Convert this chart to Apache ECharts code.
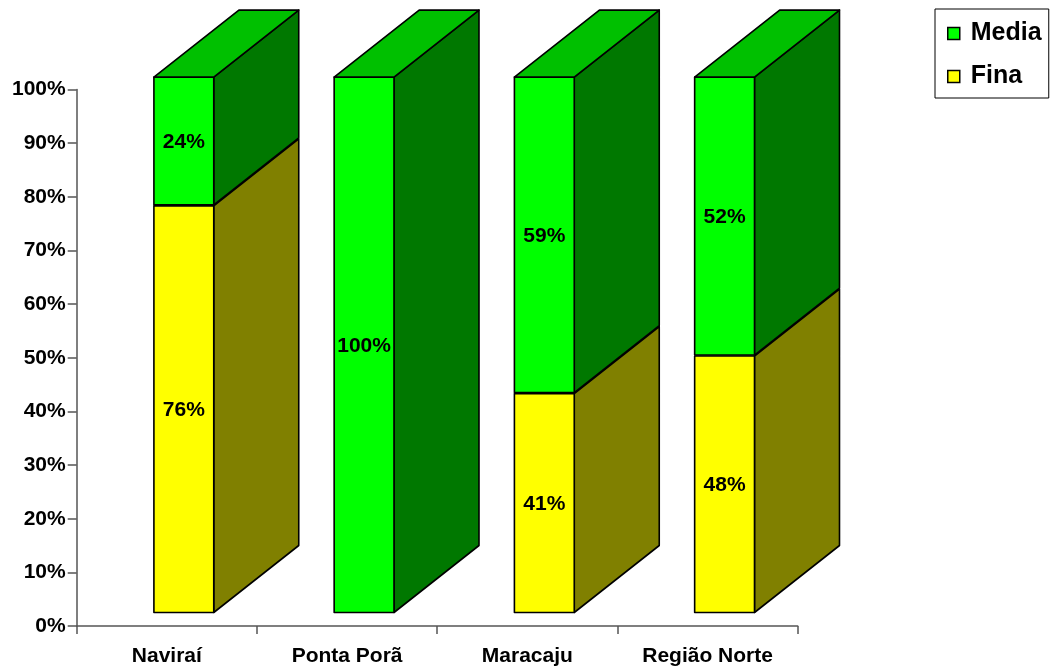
<!DOCTYPE html>
<html>
<head>
<meta charset="utf-8">
<script src="https://cdn.jsdelivr.net/npm/echarts@6/dist/echarts.min.js"></script>
<style>html,body{margin:0;padding:0;background:#fff}#c{width:1053px;height:667px}</style>
</head>
<body>
<div id="c"></div>
<script>
const categories = ['Naviraí', 'Ponta Porã', 'Maracaju', 'Região Norte'];
const fina = [76, 0, 41, 48];
const media = [24, 100, 59, 52];
const yTicks = [0, 10, 20, 30, 40, 50, 60, 70, 80, 90, 100];

const FONT = '"Liberation Sans", Arial, sans-serif';
const COLORS = {
  Media: { front: '#00FF00', side: '#007800', top: '#00C000' },
  Fina: { front: '#FFFF00', side: '#808000', top: '#C0C000' }
};
// 3D projection styling (pixels)
const DX = 85, DY = -67, SX = 17, SY = -13.5, BAR_RATIO = 0.332;

function makeRender(name) {
  const c = COLORS[name];
  return function (params, api) {
    const ci = api.value(0), lo = api.value(1), hi = api.value(2), isTop = api.value(3);
    if (hi - lo <= 0) return null;
    const pLo = api.coord([ci, lo]);
    const pHi = api.coord([ci, hi]);
    const cw = api.size([1, 0])[0];
    const bw = cw * BAR_RATIO;
    const x0 = pLo[0] - bw / 2 + SX, x1 = x0 + bw;
    const yb = pLo[1] + SY, yt = pHi[1] + SY + 1;
    const stroke = { stroke: '#000', lineWidth: 1.6, lineJoin: 'round' };
    const children = [
      { type: 'polygon', shape: { points: [[x1, yb], [x1 + DX, yb + DY], [x1 + DX, yt + DY], [x1, yt]] },
        style: Object.assign({ fill: c.side }, stroke) },
      { type: 'rect', shape: { x: x0, y: yt, width: bw, height: yb - yt },
        style: Object.assign({ fill: c.front }, stroke) }
    ];
    if (isTop) {
      children.push({ type: 'polygon', shape: { points: [[x0, yt], [x1, yt], [x1 + DX, yt + DY], [x0 + DX, yt + DY]] },
        style: Object.assign({ fill: c.top }, stroke) });
    }
    children.push({ type: 'text', style: {
      text: Math.round(hi - lo) + '%', x: (x0 + x1) / 2, y: (yb + yt) / 2 + 1,
      align: 'center', verticalAlign: 'middle', fill: '#000',
      font: 'bold 21px ' + FONT } });
    return { type: 'group', children: children };
  };
}

const finaData = categories.map((c, i) => [i, 0, fina[i], media[i] > 0 ? 0 : 1]);
const mediaData = categories.map((c, i) => [i, fina[i], fina[i] + media[i], 1]);

const chart = echarts.init(document.getElementById('c'), null, { renderer: 'canvas' });
chart.setOption({
  animation: false,
  backgroundColor: '#fff',
  grid: { left: 76.7, right: 255.3, top: 89.6, bottom: 41, containLabel: false },
  legend: {
    orient: 'vertical', left: 935, top: 9,
    padding: [12, 2, 9, 12],
    itemGap: 18, itemWidth: 12, itemHeight: 12,
    borderColor: '#000', borderWidth: 1, borderRadius: 0,
    icon: 'rect',
    textStyle: { fontFamily: FONT, fontWeight: 'bold', fontSize: 25, color: '#000', lineHeight: 24, width: 76, padding: [0, 0, 0, 6] },
    data: [
      { name: 'Media', itemStyle: { color: COLORS.Media.front, borderColor: '#000', borderWidth: 1.5 } },
      { name: 'Fina', itemStyle: { color: COLORS.Fina.front, borderColor: '#000', borderWidth: 1.5 } }
    ]
  },
  xAxis: {
    type: 'category', data: categories, boundaryGap: true,
    axisLine: { show: true, lineStyle: { color: '#555', width: 1.5 } },
    axisTick: { show: true, interval: 0, length: 8, lineStyle: { color: '#555', width: 1.5 } },
    axisLabel: { interval: 0, margin: 20, color: '#000', fontFamily: FONT, fontWeight: 'bold', fontSize: 21 },
    splitLine: { show: false }
  },
  yAxis: {
    type: 'value', min: yTicks[0], max: yTicks[yTicks.length - 1], interval: yTicks[1] - yTicks[0],
    axisLine: { show: true, lineStyle: { color: '#555', width: 1.5 } },
    axisTick: { show: true, length: 9, lineStyle: { color: '#555', width: 1.5 } },
    axisLabel: { formatter: '{value}%', margin: 11, color: '#000', fontFamily: FONT, fontWeight: 'bold', fontSize: 21 },
    splitLine: { show: false }
  },
  series: [
    { name: 'Fina', type: 'custom', renderItem: makeRender('Fina'), data: finaData,
      itemStyle: { color: COLORS.Fina.front }, encode: { x: 0, y: [1, 2] }, clip: false },
    { name: 'Media', type: 'custom', renderItem: makeRender('Media'), data: mediaData,
      itemStyle: { color: COLORS.Media.front }, encode: { x: 0, y: [1, 2] }, clip: false }
  ]
});
</script>
</body>
</html>
